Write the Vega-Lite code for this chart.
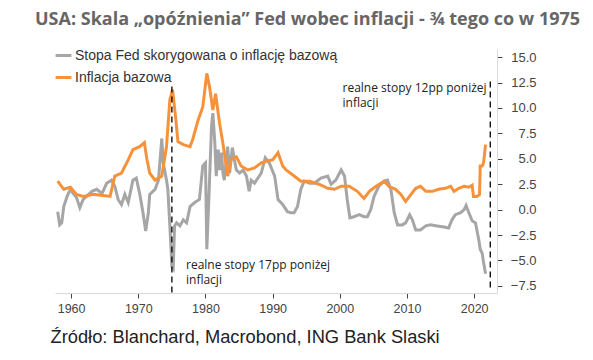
{
  "$schema": "https://vega.github.io/schema/vega-lite/v6.json",
  "width": 442,
  "height": 244,
  "autosize": {"type": "none"},
  "padding": {"left": 55, "top": 49, "right": 96, "bottom": 67},
  "background": "white",
  "title": {
    "text": "USA: Skala „opóźnienia” Fed wobec inflacji - ¾ tego co w 1975",
    "anchor": "start",
    "frame": "group",
    "orient": "top",
    "dx": -20,
    "offset": 3,
    "baseline": "alphabetic",
    "font": "Open Sans",
    "fontSize": 18,
    "fontWeight": "bold",
    "color": "#666666"
  },
  "config": {
    "view": {"stroke": null},
    "font": "Liberation Sans"
  },
  "datasets": {
    "series": [
      {"year": 1958.0, "series": "Stopa Fed skorygowana o inflację bazową", "value": -0.2},
      {"year": 1958.3, "series": "Stopa Fed skorygowana o inflację bazową", "value": -1.5},
      {"year": 1958.6, "series": "Stopa Fed skorygowana o inflację bazową", "value": -1.3},
      {"year": 1958.9, "series": "Stopa Fed skorygowana o inflację bazową", "value": 0.3},
      {"year": 1959.4, "series": "Stopa Fed skorygowana o inflację bazową", "value": 1.3},
      {"year": 1959.9, "series": "Stopa Fed skorygowana o inflację bazową", "value": 2.0},
      {"year": 1960.3, "series": "Stopa Fed skorygowana o inflację bazową", "value": 1.6},
      {"year": 1960.8, "series": "Stopa Fed skorygowana o inflację bazową", "value": 1.2},
      {"year": 1961.3, "series": "Stopa Fed skorygowana o inflację bazową", "value": 0.2},
      {"year": 1961.8, "series": "Stopa Fed skorygowana o inflację bazową", "value": 1.0},
      {"year": 1962.3, "series": "Stopa Fed skorygowana o inflację bazową", "value": 1.3},
      {"year": 1963.1, "series": "Stopa Fed skorygowana o inflację bazową", "value": 1.8},
      {"year": 1963.8, "series": "Stopa Fed skorygowana o inflację bazową", "value": 2.0},
      {"year": 1964.6, "series": "Stopa Fed skorygowana o inflację bazową", "value": 1.6},
      {"year": 1965.3, "series": "Stopa Fed skorygowana o inflację bazową", "value": 2.6},
      {"year": 1966.0, "series": "Stopa Fed skorygowana o inflację bazową", "value": 2.9},
      {"year": 1966.5, "series": "Stopa Fed skorygowana o inflację bazową", "value": 2.3},
      {"year": 1967.0, "series": "Stopa Fed skorygowana o inflację bazową", "value": 1.0},
      {"year": 1967.5, "series": "Stopa Fed skorygowana o inflację bazową", "value": 0.5},
      {"year": 1968.0, "series": "Stopa Fed skorygowana o inflację bazową", "value": 1.5},
      {"year": 1968.5, "series": "Stopa Fed skorygowana o inflację bazową", "value": 0.7},
      {"year": 1969.2, "series": "Stopa Fed skorygowana o inflację bazową", "value": 2.9},
      {"year": 1969.7, "series": "Stopa Fed skorygowana o inflację bazową", "value": 3.1},
      {"year": 1970.2, "series": "Stopa Fed skorygowana o inflację bazową", "value": 1.6},
      {"year": 1970.7, "series": "Stopa Fed skorygowana o inflację bazową", "value": -0.3},
      {"year": 1971.1, "series": "Stopa Fed skorygowana o inflację bazową", "value": -2.1},
      {"year": 1971.5, "series": "Stopa Fed skorygowana o inflację bazową", "value": -0.3},
      {"year": 1971.7, "series": "Stopa Fed skorygowana o inflację bazową", "value": 1.5},
      {"year": 1972.5, "series": "Stopa Fed skorygowana o inflację bazową", "value": 2.0},
      {"year": 1973.0, "series": "Stopa Fed skorygowana o inflację bazową", "value": 2.9},
      {"year": 1973.5, "series": "Stopa Fed skorygowana o inflację bazową", "value": 7.0},
      {"year": 1973.7, "series": "Stopa Fed skorygowana o inflację bazową", "value": 4.6},
      {"year": 1974.0, "series": "Stopa Fed skorygowana o inflację bazową", "value": 3.6},
      {"year": 1974.2, "series": "Stopa Fed skorygowana o inflację bazową", "value": 2.9},
      {"year": 1974.4, "series": "Stopa Fed skorygowana o inflację bazową", "value": 2.0},
      {"year": 1974.7, "series": "Stopa Fed skorygowana o inflację bazową", "value": -1.6},
      {"year": 1975.0, "series": "Stopa Fed skorygowana o inflację bazową", "value": -5.6},
      {"year": 1975.2, "series": "Stopa Fed skorygowana o inflację bazową", "value": -5.8},
      {"year": 1975.4, "series": "Stopa Fed skorygowana o inflację bazową", "value": -1.6},
      {"year": 1975.7, "series": "Stopa Fed skorygowana o inflację bazową", "value": -1.3},
      {"year": 1976.2, "series": "Stopa Fed skorygowana o inflację bazową", "value": -1.6},
      {"year": 1976.7, "series": "Stopa Fed skorygowana o inflację bazową", "value": -1.0},
      {"year": 1977.2, "series": "Stopa Fed skorygowana o inflację bazową", "value": -1.3},
      {"year": 1977.7, "series": "Stopa Fed skorygowana o inflację bazową", "value": 0.3},
      {"year": 1978.4, "series": "Stopa Fed skorygowana o inflację bazową", "value": 0.7},
      {"year": 1979.1, "series": "Stopa Fed skorygowana o inflację bazową", "value": 1.0},
      {"year": 1979.6, "series": "Stopa Fed skorygowana o inflację bazową", "value": 4.3},
      {"year": 1980.0, "series": "Stopa Fed skorygowana o inflację bazową", "value": 4.6},
      {"year": 1980.2, "series": "Stopa Fed skorygowana o inflację bazową", "value": -3.9},
      {"year": 1980.5, "series": "Stopa Fed skorygowana o inflację bazową", "value": 1.0},
      {"year": 1980.9, "series": "Stopa Fed skorygowana o inflację bazową", "value": 8.2},
      {"year": 1981.1, "series": "Stopa Fed skorygowana o inflację bazową", "value": 9.5},
      {"year": 1981.4, "series": "Stopa Fed skorygowana o inflację bazową", "value": 6.5},
      {"year": 1981.6, "series": "Stopa Fed skorygowana o inflację bazową", "value": 3.3},
      {"year": 1981.9, "series": "Stopa Fed skorygowana o inflację bazową", "value": 5.9},
      {"year": 1982.1, "series": "Stopa Fed skorygowana o inflację bazową", "value": 3.9},
      {"year": 1982.4, "series": "Stopa Fed skorygowana o inflację bazową", "value": 5.6},
      {"year": 1982.6, "series": "Stopa Fed skorygowana o inflację bazową", "value": 3.6},
      {"year": 1982.8, "series": "Stopa Fed skorygowana o inflację bazową", "value": 2.9},
      {"year": 1983.3, "series": "Stopa Fed skorygowana o inflację bazową", "value": 6.2},
      {"year": 1983.6, "series": "Stopa Fed skorygowana o inflację bazową", "value": 3.6},
      {"year": 1984.0, "series": "Stopa Fed skorygowana o inflację bazową", "value": 6.1},
      {"year": 1984.3, "series": "Stopa Fed skorygowana o inflację bazową", "value": 4.9},
      {"year": 1984.6, "series": "Stopa Fed skorygowana o inflację bazową", "value": 3.9},
      {"year": 1985.1, "series": "Stopa Fed skorygowana o inflację bazową", "value": 3.6},
      {"year": 1985.6, "series": "Stopa Fed skorygowana o inflację bazową", "value": 3.9},
      {"year": 1986.1, "series": "Stopa Fed skorygowana o inflację bazową", "value": 3.3},
      {"year": 1986.5, "series": "Stopa Fed skorygowana o inflację bazową", "value": 1.8},
      {"year": 1986.8, "series": "Stopa Fed skorygowana o inflację bazową", "value": 2.9},
      {"year": 1987.3, "series": "Stopa Fed skorygowana o inflację bazową", "value": 2.6},
      {"year": 1987.8, "series": "Stopa Fed skorygowana o inflację bazową", "value": 3.1},
      {"year": 1988.3, "series": "Stopa Fed skorygowana o inflację bazową", "value": 3.6},
      {"year": 1988.9, "series": "Stopa Fed skorygowana o inflację bazową", "value": 5.1},
      {"year": 1989.5, "series": "Stopa Fed skorygowana o inflację bazową", "value": 4.6},
      {"year": 1990.3, "series": "Stopa Fed skorygowana o inflację bazową", "value": 3.3},
      {"year": 1990.8, "series": "Stopa Fed skorygowana o inflację bazową", "value": 1.0},
      {"year": 1991.5, "series": "Stopa Fed skorygowana o inflację bazową", "value": 0.5},
      {"year": 1992.2, "series": "Stopa Fed skorygowana o inflację bazową", "value": -0.2},
      {"year": 1992.7, "series": "Stopa Fed skorygowana o inflację bazową", "value": -0.3},
      {"year": 1993.2, "series": "Stopa Fed skorygowana o inflację bazową", "value": -0.3},
      {"year": 1993.7, "series": "Stopa Fed skorygowana o inflację bazową", "value": 0.3},
      {"year": 1994.2, "series": "Stopa Fed skorygowana o inflację bazową", "value": 2.0},
      {"year": 1994.7, "series": "Stopa Fed skorygowana o inflację bazową", "value": 2.8},
      {"year": 1995.5, "series": "Stopa Fed skorygowana o inflację bazową", "value": 2.6},
      {"year": 1996.2, "series": "Stopa Fed skorygowana o inflację bazową", "value": 2.6},
      {"year": 1997.2, "series": "Stopa Fed skorygowana o inflację bazową", "value": 3.1},
      {"year": 1998.2, "series": "Stopa Fed skorygowana o inflację bazową", "value": 3.3},
      {"year": 1998.7, "series": "Stopa Fed skorygowana o inflację bazową", "value": 2.5},
      {"year": 1999.4, "series": "Stopa Fed skorygowana o inflację bazową", "value": 2.9},
      {"year": 2000.2, "series": "Stopa Fed skorygowana o inflację bazową", "value": 3.9},
      {"year": 2000.7, "series": "Stopa Fed skorygowana o inflację bazową", "value": 3.3},
      {"year": 2001.1, "series": "Stopa Fed skorygowana o inflację bazową", "value": 1.0},
      {"year": 2001.5, "series": "Stopa Fed skorygowana o inflację bazową", "value": -0.8},
      {"year": 2002.1, "series": "Stopa Fed skorygowana o inflację bazową", "value": -0.7},
      {"year": 2002.9, "series": "Stopa Fed skorygowana o inflację bazową", "value": -0.5},
      {"year": 2003.6, "series": "Stopa Fed skorygowana o inflację bazową", "value": -0.7},
      {"year": 2004.1, "series": "Stopa Fed skorygowana o inflację bazową", "value": -0.7},
      {"year": 2004.6, "series": "Stopa Fed skorygowana o inflację bazową", "value": 0.0},
      {"year": 2005.1, "series": "Stopa Fed skorygowana o inflację bazową", "value": 1.3},
      {"year": 2005.8, "series": "Stopa Fed skorygowana o inflację bazową", "value": 2.3},
      {"year": 2006.6, "series": "Stopa Fed skorygowana o inflację bazową", "value": 2.8},
      {"year": 2007.1, "series": "Stopa Fed skorygowana o inflację bazową", "value": 2.9},
      {"year": 2007.6, "series": "Stopa Fed skorygowana o inflację bazową", "value": 2.0},
      {"year": 2008.1, "series": "Stopa Fed skorygowana o inflację bazową", "value": -0.3},
      {"year": 2008.6, "series": "Stopa Fed skorygowana o inflację bazową", "value": -1.5},
      {"year": 2009.3, "series": "Stopa Fed skorygowana o inflację bazową", "value": -1.5},
      {"year": 2009.8, "series": "Stopa Fed skorygowana o inflację bazową", "value": -1.3},
      {"year": 2010.4, "series": "Stopa Fed skorygowana o inflację bazową", "value": -0.5},
      {"year": 2010.8, "series": "Stopa Fed skorygowana o inflację bazową", "value": -1.0},
      {"year": 2011.3, "series": "Stopa Fed skorygowana o inflację bazową", "value": -2.0},
      {"year": 2012.0, "series": "Stopa Fed skorygowana o inflację bazową", "value": -2.0},
      {"year": 2012.8, "series": "Stopa Fed skorygowana o inflację bazową", "value": -1.6},
      {"year": 2013.5, "series": "Stopa Fed skorygowana o inflację bazową", "value": -1.5},
      {"year": 2014.5, "series": "Stopa Fed skorygowana o inflację bazową", "value": -1.6},
      {"year": 2015.5, "series": "Stopa Fed skorygowana o inflację bazową", "value": -1.7},
      {"year": 2016.2, "series": "Stopa Fed skorygowana o inflację bazową", "value": -1.8},
      {"year": 2016.7, "series": "Stopa Fed skorygowana o inflację bazową", "value": -1.0},
      {"year": 2017.2, "series": "Stopa Fed skorygowana o inflację bazową", "value": -0.5},
      {"year": 2018.0, "series": "Stopa Fed skorygowana o inflację bazową", "value": -0.3},
      {"year": 2018.5, "series": "Stopa Fed skorygowana o inflację bazową", "value": 0.0},
      {"year": 2018.8, "series": "Stopa Fed skorygowana o inflację bazową", "value": 0.4},
      {"year": 2019.2, "series": "Stopa Fed skorygowana o inflację bazową", "value": -0.3},
      {"year": 2019.7, "series": "Stopa Fed skorygowana o inflację bazową", "value": -1.1},
      {"year": 2020.2, "series": "Stopa Fed skorygowana o inflację bazową", "value": -1.3},
      {"year": 2020.7, "series": "Stopa Fed skorygowana o inflację bazową", "value": -3.0},
      {"year": 2020.9, "series": "Stopa Fed skorygowana o inflację bazową", "value": -3.9},
      {"year": 2021.2, "series": "Stopa Fed skorygowana o inflację bazową", "value": -4.3},
      {"year": 2021.4, "series": "Stopa Fed skorygowana o inflację bazową", "value": -5.2},
      {"year": 2021.7, "series": "Stopa Fed skorygowana o inflację bazową", "value": -6.3},
      {"year": 1958.0, "series": "Inflacja bazowa", "value": 2.8},
      {"year": 1958.9, "series": "Inflacja bazowa", "value": 2.0},
      {"year": 1959.9, "series": "Inflacja bazowa", "value": 2.2},
      {"year": 1960.8, "series": "Inflacja bazowa", "value": 1.5},
      {"year": 1961.8, "series": "Inflacja bazowa", "value": 1.3},
      {"year": 1963.3, "series": "Inflacja bazowa", "value": 1.5},
      {"year": 1964.8, "series": "Inflacja bazowa", "value": 1.4},
      {"year": 1965.8, "series": "Inflacja bazowa", "value": 1.3},
      {"year": 1966.5, "series": "Inflacja bazowa", "value": 3.3},
      {"year": 1967.5, "series": "Inflacja bazowa", "value": 3.6},
      {"year": 1968.5, "series": "Inflacja bazowa", "value": 4.9},
      {"year": 1969.2, "series": "Inflacja bazowa", "value": 5.9},
      {"year": 1970.2, "series": "Inflacja bazowa", "value": 6.2},
      {"year": 1970.9, "series": "Inflacja bazowa", "value": 6.6},
      {"year": 1971.3, "series": "Inflacja bazowa", "value": 4.9},
      {"year": 1971.7, "series": "Inflacja bazowa", "value": 3.6},
      {"year": 1972.5, "series": "Inflacja bazowa", "value": 2.9},
      {"year": 1973.5, "series": "Inflacja bazowa", "value": 3.3},
      {"year": 1974.2, "series": "Inflacja bazowa", "value": 6.2},
      {"year": 1974.7, "series": "Inflacja bazowa", "value": 10.8},
      {"year": 1975.1, "series": "Inflacja bazowa", "value": 11.8},
      {"year": 1975.6, "series": "Inflacja bazowa", "value": 8.8},
      {"year": 1975.9, "series": "Inflacja bazowa", "value": 6.7},
      {"year": 1976.7, "series": "Inflacja bazowa", "value": 6.4},
      {"year": 1977.7, "series": "Inflacja bazowa", "value": 6.2},
      {"year": 1978.1, "series": "Inflacja bazowa", "value": 6.9},
      {"year": 1978.9, "series": "Inflacja bazowa", "value": 8.8},
      {"year": 1979.6, "series": "Inflacja bazowa", "value": 10.1},
      {"year": 1980.2, "series": "Inflacja bazowa", "value": 13.4},
      {"year": 1980.6, "series": "Inflacja bazowa", "value": 12.1},
      {"year": 1981.1, "series": "Inflacja bazowa", "value": 9.8},
      {"year": 1981.5, "series": "Inflacja bazowa", "value": 11.4},
      {"year": 1982.1, "series": "Inflacja bazowa", "value": 8.5},
      {"year": 1982.6, "series": "Inflacja bazowa", "value": 6.5},
      {"year": 1983.1, "series": "Inflacja bazowa", "value": 4.3},
      {"year": 1983.3, "series": "Inflacja bazowa", "value": 3.3},
      {"year": 1983.8, "series": "Inflacja bazowa", "value": 4.9},
      {"year": 1984.6, "series": "Inflacja bazowa", "value": 5.2},
      {"year": 1985.3, "series": "Inflacja bazowa", "value": 4.3},
      {"year": 1986.3, "series": "Inflacja bazowa", "value": 3.9},
      {"year": 1987.3, "series": "Inflacja bazowa", "value": 4.1},
      {"year": 1988.3, "series": "Inflacja bazowa", "value": 4.6},
      {"year": 1989.3, "series": "Inflacja bazowa", "value": 4.8},
      {"year": 1990.0, "series": "Inflacja bazowa", "value": 4.9},
      {"year": 1990.8, "series": "Inflacja bazowa", "value": 5.6},
      {"year": 1991.5, "series": "Inflacja bazowa", "value": 4.3},
      {"year": 1992.0, "series": "Inflacja bazowa", "value": 3.9},
      {"year": 1993.0, "series": "Inflacja bazowa", "value": 3.4},
      {"year": 1994.2, "series": "Inflacja bazowa", "value": 2.8},
      {"year": 1995.5, "series": "Inflacja bazowa", "value": 2.8},
      {"year": 1996.9, "series": "Inflacja bazowa", "value": 2.5},
      {"year": 1998.2, "series": "Inflacja bazowa", "value": 2.1},
      {"year": 1999.2, "series": "Inflacja bazowa", "value": 2.0},
      {"year": 2000.2, "series": "Inflacja bazowa", "value": 2.3},
      {"year": 2001.4, "series": "Inflacja bazowa", "value": 2.3},
      {"year": 2002.6, "series": "Inflacja bazowa", "value": 1.8},
      {"year": 2003.6, "series": "Inflacja bazowa", "value": 1.1},
      {"year": 2004.4, "series": "Inflacja bazowa", "value": 1.8},
      {"year": 2005.4, "series": "Inflacja bazowa", "value": 2.3},
      {"year": 2006.6, "series": "Inflacja bazowa", "value": 2.8},
      {"year": 2007.3, "series": "Inflacja bazowa", "value": 2.3},
      {"year": 2008.3, "series": "Inflacja bazowa", "value": 2.0},
      {"year": 2009.1, "series": "Inflacja bazowa", "value": 1.5},
      {"year": 2009.8, "series": "Inflacja bazowa", "value": 0.8},
      {"year": 2010.6, "series": "Inflacja bazowa", "value": 1.5},
      {"year": 2011.3, "series": "Inflacja bazowa", "value": 2.1},
      {"year": 2012.0, "series": "Inflacja bazowa", "value": 2.3},
      {"year": 2012.8, "series": "Inflacja bazowa", "value": 1.8},
      {"year": 2013.8, "series": "Inflacja bazowa", "value": 1.8},
      {"year": 2014.7, "series": "Inflacja bazowa", "value": 2.0},
      {"year": 2015.7, "series": "Inflacja bazowa", "value": 2.1},
      {"year": 2016.5, "series": "Inflacja bazowa", "value": 2.3},
      {"year": 2017.0, "series": "Inflacja bazowa", "value": 1.8},
      {"year": 2017.7, "series": "Inflacja bazowa", "value": 2.1},
      {"year": 2018.5, "series": "Inflacja bazowa", "value": 2.3},
      {"year": 2019.2, "series": "Inflacja bazowa", "value": 2.2},
      {"year": 2019.7, "series": "Inflacja bazowa", "value": 2.4},
      {"year": 2019.9, "series": "Inflacja bazowa", "value": 1.3},
      {"year": 2020.4, "series": "Inflacja bazowa", "value": 1.3},
      {"year": 2020.8, "series": "Inflacja bazowa", "value": 1.5},
      {"year": 2020.9, "series": "Inflacja bazowa", "value": 4.3},
      {"year": 2021.2, "series": "Inflacja bazowa", "value": 4.3},
      {"year": 2021.4, "series": "Inflacja bazowa", "value": 4.6},
      {"year": 2021.7, "series": "Inflacja bazowa", "value": 6.4}
    ],
    "markers": [
      {"year": 1975.0, "top": 12.1, "bottom": -8.2},
      {"year": 2022.4, "top": 12.6, "bottom": -7.7}
    ],
    "notes": [
      {"year": 1977.1, "value": -4.95, "label": "realne stopy 17pp poniżej\ninflacji"},
      {"year": 2000.4, "value": 12.45, "label": "realne stopy 12pp poniżej\ninflacji"}
    ]
  },
  "layer": [
    {
      "data": {"name": "series"},
      "mark": {"type": "line", "strokeWidth": 3, "interpolate": "linear"},
      "encoding": {
        "x": {
          "field": "year",
          "type": "quantitative",
          "scale": {"domain": [1957.6, 2023.4], "nice": false, "zero": false},
          "axis": {
            "values": [1960, 1970, 1980, 1990, 2000, 2010, 2020],
            "tickCount": 20,
            "format": "d",
            "grid": false,
            "domainColor": "#d9d9d9",
            "domainWidth": 1,
            "tickColor": "#444444",
            "tickSize": 5,
            "labelFont": "Liberation Sans",
            "labelFontSize": 12.5,
            "labelColor": "#444444",
            "labelPadding": 4,
            "labelOverlap": false,
            "title": "Źródło: Blanchard, Macrobond, ING Bank Slaski",
            "titleFont": "Liberation Sans",
            "titleFontSize": 18.3,
            "titleFontWeight": "normal",
            "titleColor": "#222222",
            "titleAlign": "left",
            "titleAnchor": "start",
            "titleBaseline": "alphabetic",
            "titleX": -5,
            "titleY": 49
          }
        },
        "y": {
          "field": "value",
          "type": "quantitative",
          "scale": {"domain": [-8.2, 15.8], "nice": false, "zero": false},
          "axis": {
            "orient": "right",
            "values": [-7.5, -5, -2.5, 0, 2.5, 5, 7.5, 10, 12.5, 15],
            "tickCount": 20,
            "format": ".1f",
            "grid": false,
            "domainColor": "#d9d9d9",
            "domainWidth": 1,
            "tickColor": "#444444",
            "tickSize": 5,
            "labelAlign": "right",
            "labelPadding": 34,
            "labelOverlap": false,
            "labelFont": "Liberation Sans",
            "labelFontSize": 13,
            "labelColor": "#444444",
            "title": null
          }
        },
        "color": {
          "field": "series",
          "type": "nominal",
          "scale": {
            "domain": ["Stopa Fed skorygowana o inflację bazową", "Inflacja bazowa"],
            "range": ["#A6A6A6", "#F7923A"]
          },
          "legend": {
            "title": null,
            "orient": "none",
            "legendX": -1,
            "legendY": -3,
            "symbolType": "stroke",
            "symbolSize": 250,
            "symbolStrokeWidth": 3,
            "labelFont": "Liberation Sans",
            "labelFontSize": 14,
            "labelColor": "#333333",
            "labelLimit": 400,
            "labelOffset": 2,
            "rowPadding": 5
          }
        }
      }
    },
    {
      "data": {"name": "markers"},
      "mark": {"type": "rule", "color": "#000000", "strokeWidth": 1.3, "strokeDash": [6, 4]},
      "encoding": {
        "x": {"field": "year", "type": "quantitative"},
        "y": {"field": "top", "type": "quantitative"},
        "y2": {"field": "bottom"}
      }
    },
    {
      "data": {"name": "notes"},
      "mark": {
        "type": "text",
        "align": "left",
        "baseline": "top",
        "font": "Open Sans",
        "fontSize": 12,
        "color": "#222222",
        "lineBreak": "\n",
        "lineHeight": 15
      },
      "encoding": {
        "x": {"field": "year", "type": "quantitative"},
        "y": {"field": "value", "type": "quantitative"},
        "text": {"field": "label", "type": "nominal"}
      }
    }
  ]
}
